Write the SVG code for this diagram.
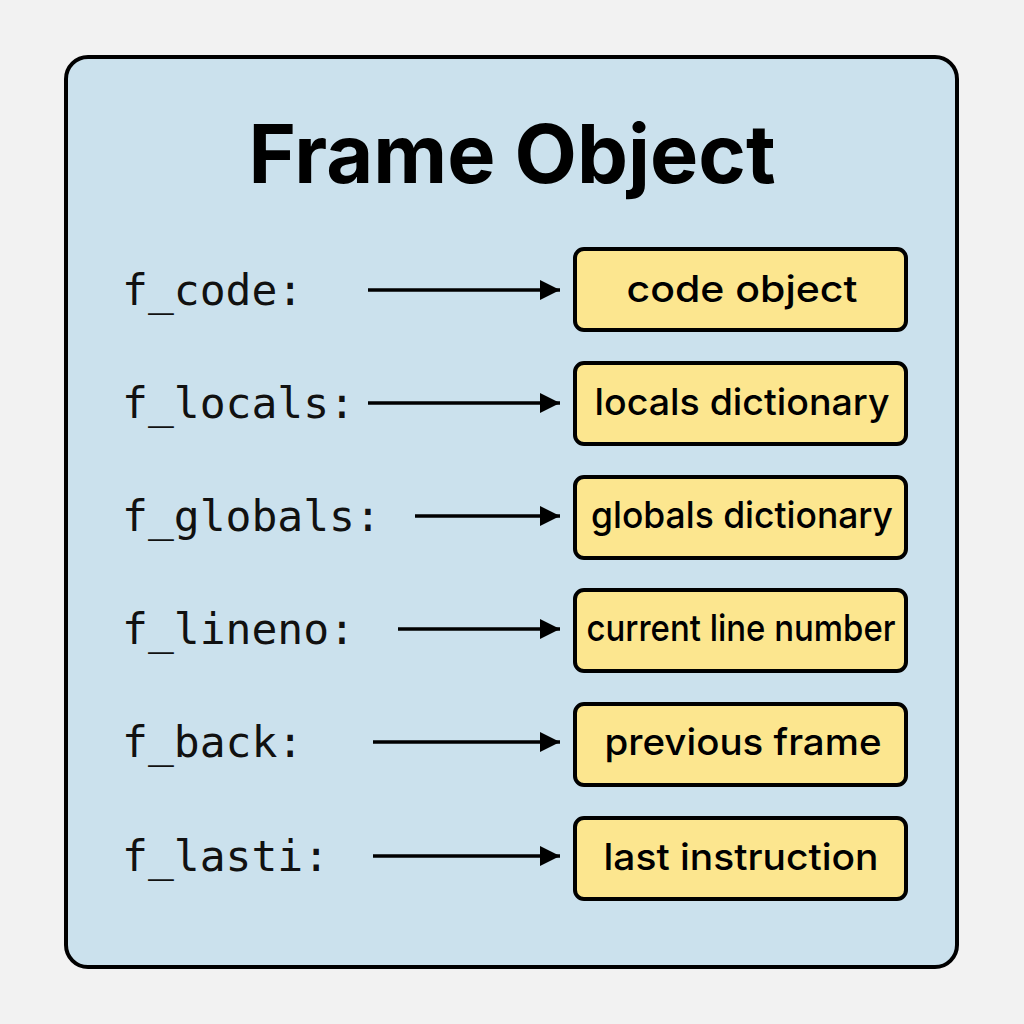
<svg xmlns="http://www.w3.org/2000/svg" width="1024" height="1024" viewBox="0 0 1024 1024">
<defs>
<marker id="ah" viewBox="0 0 20 20" refX="20" refY="10" markerWidth="21" markerHeight="20" markerUnits="userSpaceOnUse" orient="auto">
<path d="M0,0 L20,10 L0,20 Z" fill="#000"/>
</marker>
<style>
.lbl{font-family:"DejaVu Sans Mono","Liberation Mono",monospace;font-size:43px;fill:#111}
.box{fill:#fce68f;stroke:#000;stroke-width:4}
.bt{font-family:Inter,"Noto Sans","Liberation Sans",sans-serif;font-size:37px;font-weight:500;fill:#000;text-anchor:middle}
.con{stroke:#000;stroke-width:3.5;fill:none}
</style>
</defs>
<rect width="1024" height="1024" fill="#f2f2f2"/>
<g id="frame">
<rect x="66" y="57" width="891" height="910" rx="22" fill="#cbe1ed" stroke="#000" stroke-width="4"/>
<text x="512" y="183" font-family="Inter,'Liberation Sans',sans-serif" font-weight="bold" font-size="81" text-anchor="middle" fill="#000">Frame Object</text>
</g>
<g id="labels">
<text class="lbl" x="122" y="305">f_code:</text>
<text class="lbl" x="122" y="418">f_locals:</text>
<text class="lbl" x="122" y="531">f_globals:</text>
<text class="lbl" x="122" y="644">f_lineno:</text>
<text class="lbl" x="122" y="757">f_back:</text>
<text class="lbl" x="122" y="871">f_lasti:</text>
</g>
<g id="connectors">
<line class="con" x1="368" y1="290" x2="560" y2="290" marker-end="url(#ah)"/>
<line class="con" x1="368" y1="403" x2="560" y2="403" marker-end="url(#ah)"/>
<line class="con" x1="415" y1="516" x2="560" y2="516" marker-end="url(#ah)"/>
<line class="con" x1="398" y1="629" x2="560" y2="629" marker-end="url(#ah)"/>
<line class="con" x1="373" y1="742" x2="560" y2="742" marker-end="url(#ah)"/>
<line class="con" x1="373" y1="856" x2="560" y2="856" marker-end="url(#ah)"/>
</g>
<g id="n1"><rect class="box" x="575" y="249" width="331" height="81" rx="9"/><text class="bt" x="742" y="302" textLength="231" lengthAdjust="spacingAndGlyphs">code object</text></g>
<g id="n2"><rect class="box" x="575" y="363" width="331" height="81" rx="9"/><text class="bt" x="742" y="415" textLength="295" lengthAdjust="spacingAndGlyphs">locals dictionary</text></g>
<g id="n3"><rect class="box" x="575" y="477" width="331" height="81" rx="9"/><text class="bt" x="742" y="528" textLength="302" lengthAdjust="spacingAndGlyphs">globals dictionary</text></g>
<g id="n4"><rect class="box" x="575" y="590" width="331" height="81" rx="9"/><text class="bt" x="741" y="641" textLength="309" lengthAdjust="spacingAndGlyphs">current line number</text></g>
<g id="n5"><rect class="box" x="575" y="704" width="331" height="81" rx="9"/><text class="bt" x="743" y="755" textLength="277" lengthAdjust="spacingAndGlyphs">previous frame</text></g>
<g id="n6"><rect class="box" x="575" y="818" width="331" height="81" rx="9"/><text class="bt" x="741" y="870" textLength="275" lengthAdjust="spacingAndGlyphs">last instruction</text></g>
</svg>
